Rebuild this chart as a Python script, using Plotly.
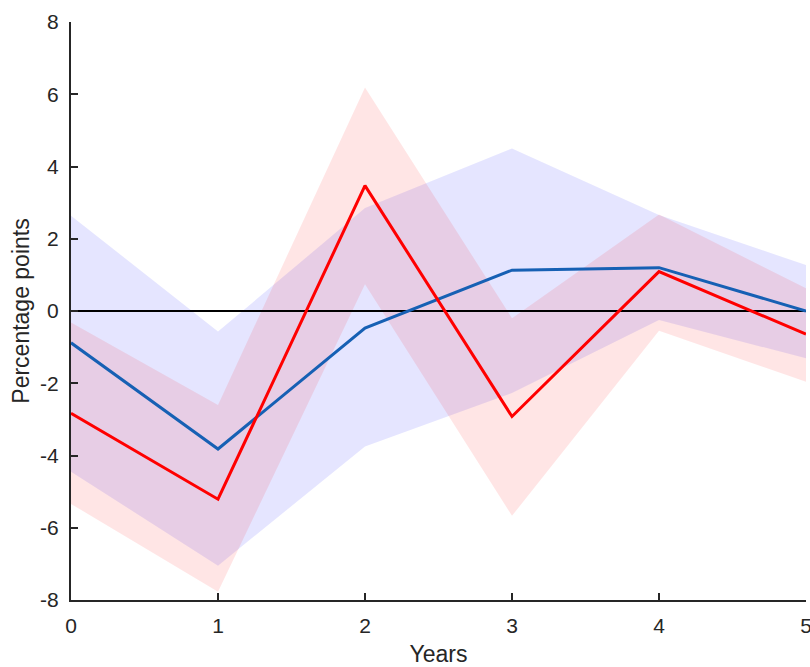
import plotly.graph_objects as go

years = [0, 1, 2, 3, 4, 5]

# blue series with its band
blue_mid = [-0.88, -3.82, -0.47, 1.13, 1.20, 0.0]
blue_lo = [-4.45, -7.05, -3.75, -2.27, -0.25, -1.31]
blue_hi = [2.64, -0.57, 2.85, 4.50, 2.66, 1.27]

# red series with its band
red_mid = [-2.83, -5.21, 3.47, -2.92, 1.09, -0.64]
red_lo = [-5.34, -7.77, 0.74, -5.67, -0.55, -1.96]
red_hi = [-0.32, -2.60, 6.19, -0.20, 2.67, 0.63]

yticks = [-8, -6, -4, -2, 0, 2, 4, 6, 8]
ytick_labels = ["-8", "-6", "-4", "-2", "0", "2", "4", "6", "8"]

fig = go.Figure()

# bands
fig.add_trace(go.Scatter(x=years, y=blue_lo, mode="lines", line=dict(width=0),
                         showlegend=False, hoverinfo="skip"))
fig.add_trace(go.Scatter(x=years, y=blue_hi, mode="lines", line=dict(width=0),
                         fill="tonexty", fillcolor="rgba(0,0,255,0.1)",
                         showlegend=False, hoverinfo="skip"))
fig.add_trace(go.Scatter(x=years, y=red_lo, mode="lines", line=dict(width=0),
                         showlegend=False, hoverinfo="skip"))
fig.add_trace(go.Scatter(x=years, y=red_hi, mode="lines", line=dict(width=0),
                         fill="tonexty", fillcolor="rgba(255,0,0,0.1)",
                         showlegend=False, hoverinfo="skip"))

# zero line
fig.add_trace(go.Scatter(x=[years[0], years[-1]], y=[0, 0], mode="lines",
                         line=dict(color="black", width=2), showlegend=False))

# point estimates
fig.add_trace(go.Scatter(x=years, y=blue_mid, mode="lines",
                         line=dict(color="#1660b4", width=3), showlegend=False))
fig.add_trace(go.Scatter(x=years, y=red_mid, mode="lines",
                         line=dict(color="#ff0000", width=3), showlegend=False))

axis_font = dict(family="Liberation Sans, Arial, sans-serif", size=21, color="#262626")

fig.update_layout(
    width=810, height=667,
    margin=dict(l=71, r=4, t=22, b=67),
    plot_bgcolor="white", paper_bgcolor="white",
    font=axis_font,
    xaxis=dict(range=[0, 5], tickvals=years, showgrid=False, zeroline=False,
               showline=True, linecolor="#262626", linewidth=2,
               ticks="inside", ticklen=7, tickwidth=1.5, tickcolor="#262626",
               ticklabelstandoff=6, ticklabeloverflow="allow", automargin=False,
               title=dict(text="Years", font=dict(size=23), standoff=18)),
    yaxis=dict(range=[-8, 8], tickvals=yticks, ticktext=ytick_labels,
               showgrid=False, zeroline=False,
               showline=True, linecolor="#262626", linewidth=2,
               ticks="inside", ticklen=7, tickwidth=1.5, tickcolor="#262626",
               ticklabelstandoff=6, ticklabeloverflow="allow", automargin=False,
               title=dict(text="Percentage points", font=dict(size=23), standoff=4)),
)

fig.write_html("out.html", config={"displayModeBar": False},
               post_script="document.body.style.margin='0';")
